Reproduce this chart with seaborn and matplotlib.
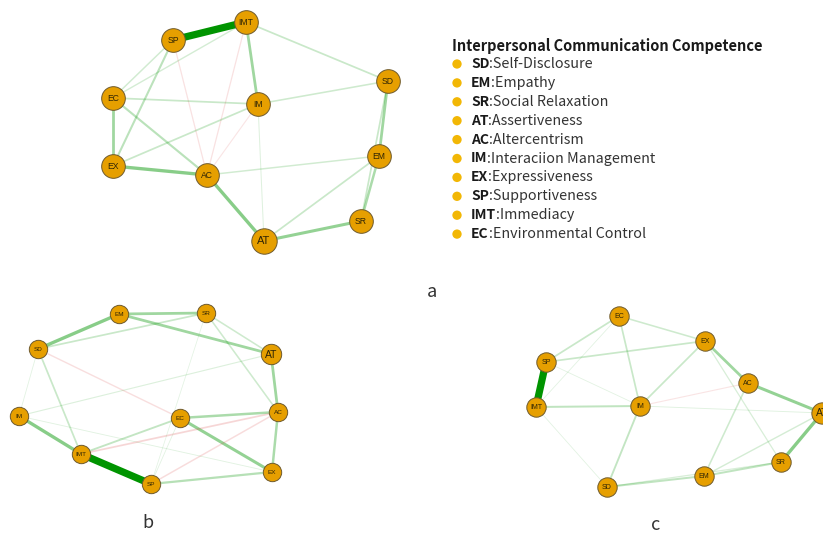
import matplotlib
matplotlib.use("Agg")
import matplotlib.pyplot as plt
import seaborn as sns
import pandas as pd

sns.set_theme(style="white")
plt.rcParams["font.family"] = ["Noto Sans CJK SC", "DejaVu Sans"]

# ---- node layouts (canvas pixel coordinates) ----
nodes_a = {"IMT": (246, 22), "SP": (173, 40), "EC": (113, 98), "IM": (258, 104),
           "SD": (388, 81), "EX": (113, 166), "AC": (207, 175), "EM": (379, 156),
           "SR": (361, 221), "AT": (264, 241)}
nodes_b = {"EM": (119, 314), "SR": (206, 313), "SD": (38, 349), "AT": (271, 354),
           "IM": (19, 416), "EC": (180, 418), "AC": (278, 412), "IMT": (81, 454),
           "SP": (151, 484), "EX": (272, 472)}
nodes_c = {"EC": (619, 316), "EX": (705, 341), "SP": (546, 362), "AC": (748, 383),
           "IMT": (536, 407), "IM": (640, 406), "AT": (822, 413), "SR": (781, 462),
           "EM": (704, 476), "SD": (607, 487)}

# ---- edge weights (positive = green, negative = red) ----
edges_a = [("SP", "IMT", 1.0), ("IMT", "IM", 0.45), ("IMT", "SD", 0.25),
           ("IMT", "EC", 0.18), ("IMT", "AC", -0.15), ("SP", "EC", 0.2),
           ("SP", "EX", 0.32), ("SP", "AC", -0.15), ("EC", "IM", 0.25),
           ("EC", "EX", 0.45), ("EC", "AC", 0.33), ("EX", "IM", 0.25),
           ("EX", "AC", 0.55), ("IM", "AC", -0.12), ("IM", "AT", 0.1),
           ("IM", "SD", 0.22), ("AC", "EM", 0.2), ("AC", "AT", 0.55),
           ("SD", "EM", 0.45), ("SD", "SR", 0.25), ("EM", "SR", 0.4),
           ("EM", "AT", 0.25), ("SR", "AT", 0.5)]
edges_b = [("IMT", "SP", 1.0), ("EM", "SD", 0.55), ("EM", "SR", 0.45),
           ("EM", "AT", 0.45), ("SD", "SR", 0.25), ("SR", "AT", 0.22),
           ("SR", "AC", 0.22), ("AT", "AC", 0.45), ("AT", "IM", 0.12),
           ("SD", "EC", -0.18), ("SD", "IMT", 0.25), ("SD", "IM", 0.06),
           ("IM", "IMT", 0.55), ("IM", "EX", 0.07), ("EC", "AC", 0.4),
           ("EC", "EX", 0.5), ("EC", "IMT", 0.28), ("EC", "SP", 0.06),
           ("IMT", "AC", -0.25), ("SP", "AC", -0.2), ("SP", "EX", 0.35),
           ("AC", "EX", 0.4), ("SR", "SP", 0.05)]
edges_c = [("SP", "IMT", 1.0), ("SP", "EC", 0.25), ("SP", "EX", 0.25),
           ("SP", "IM", 0.06), ("EC", "EX", 0.22), ("EC", "IM", 0.25),
           ("EX", "IM", 0.25), ("EX", "AC", 0.45), ("EX", "SR", 0.15),
           ("AC", "AT", 0.5), ("IM", "AC", -0.12), ("AC", "EM", 0.22),
           ("IMT", "IM", 0.3), ("IMT", "SD", 0.06), ("IM", "SD", 0.28),
           ("IM", "AT", 0.08), ("AT", "SR", 0.55), ("AT", "EM", 0.18),
           ("SD", "EM", 0.3), ("EM", "SR", 0.3), ("SD", "SR", 0.15),
           ("EC", "IMT", 0.06)]

# ---- legend content ----
legend_title = "Interpersonal Communication Competence"
legend_codes = ["SD", "EM", "SR", "AT", "AC", "IM", "EX", "SP", "IMT", "EC"]
legend_names = ["Self-Disclosure", "Empathy", "Social Relaxation", "Assertiveness",
                "Altercentrism", "Interaciion Management", "Expressiveness",
                "Supportiveness", "Immediacy", "Environmental Control"]
panel_labels = ["a", "b", "c"]

NODE_COLOR = "#E69F00"
GREEN = (0.0, 0.58, 0.0)
RED = (0.85, 0.25, 0.25)

fig = plt.figure(figsize=(8.23, 5.34), dpi=100)
ax = fig.add_axes([0, 0, 1, 1])
ax.set_xlim(0, 823)
ax.set_ylim(534, 0)
ax.axis("off")


def draw_network(nodes, edges, node_s, at_s, font, at_font):
    for u, v, w in edges:
        x0, y0 = nodes[u]
        x1, y1 = nodes[v]
        aw = abs(w)
        col = GREEN if w > 0 else RED
        alpha = 0.1 + 0.9 * aw ** 1.5
        ax.plot([x0, x1], [y0, y1], color=col, alpha=alpha,
                lw=0.4 + 3.4 * aw + 1.4 * aw ** 4,
                solid_capstyle="butt", zorder=1)
    df = pd.DataFrame({"name": list(nodes),
                       "x": [p[0] for p in nodes.values()],
                       "y": [p[1] for p in nodes.values()]})
    df["s"] = [at_s if n == "AT" else node_s for n in df["name"]]
    for s_val, sub in df.groupby("s"):
        sns.scatterplot(data=sub, x="x", y="y", s=s_val, color=NODE_COLOR,
                        edgecolor="#6e5a2e", linewidth=0.7, legend=False,
                        ax=ax, zorder=3)
    for _, r in df.iterrows():
        ax.text(r.x, r.y + 0.5, r["name"], ha="center", va="center",
                fontsize=at_font if r["name"] == "AT" else font,
                family=["Liberation Sans", "DejaVu Sans"],
                color="#2e2405", zorder=4)


draw_network(nodes_a, edges_a, 290, 335, 6.2, 8.0)
draw_network(nodes_b, edges_b, 175, 215, 4.6, 7.5)
draw_network(nodes_c, edges_c, 195, 235, 5.0, 7.5)

# legend
ax.text(452, 46, legend_title, fontsize=10.5, fontweight="bold",
        ha="left", va="center", color="#1a1a1a")
ys = [64 + i * 18.9 for i in range(len(legend_codes))]
sns.scatterplot(x=[457] * len(ys), y=ys, s=45, color="#F2B705",
                edgecolor="none", legend=False, ax=ax, zorder=3)
for y, code, name in zip(ys, legend_codes, legend_names):
    t = ax.text(471, y, code, fontsize=10, fontweight="bold",
                ha="left", va="center", color="#1a1a1a")
    fig.canvas.draw()
    bb = t.get_window_extent().transformed(ax.transData.inverted())
    ax.text(bb.x1, y, ":" + name, fontsize=10.3, ha="left", va="center",
            color="#333333")

for lab, (x, y) in zip(panel_labels, [(432, 292), (148, 523), (656, 525)]):
    ax.text(x, y, lab, fontsize=13, ha="center", va="center", color="#333333")

fig.savefig("out.png", dpi=100, facecolor="white")
